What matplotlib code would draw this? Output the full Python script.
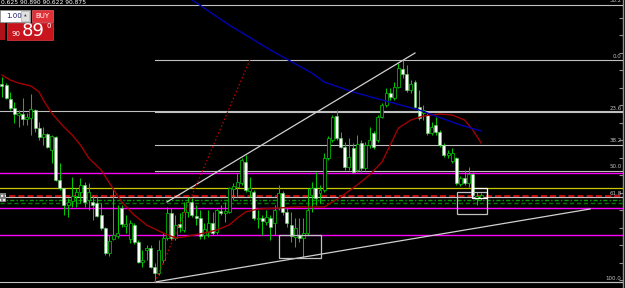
import numpy as np
import matplotlib
matplotlib.use("Agg")
import matplotlib.pyplot as plt
from matplotlib.patches import Rectangle

# ---------------------------------------------------------------------------
# Price data, one entry per bar.
# ---------------------------------------------------------------------------
opens = [
    92.01, 92.00, 91.86, 91.77, 91.70, 91.71, 91.66, 91.67, 91.75, 91.57,
    91.48, 91.51, 91.35, 91.48, 91.05, 90.97, 90.80, 90.84, 90.89, 90.93,
    91.00, 90.85, 90.83, 90.82, 90.70, 90.57, 90.32, 90.46, 90.49, 90.77,
    90.59, 90.46, 90.60, 90.43, 90.23, 90.35, 90.37, 90.18, 90.12, 90.25,
    90.47, 90.72, 90.47, 90.61, 90.55, 90.73, 90.83, 90.69, 90.67, 90.50,
    90.53, 90.62, 90.53, 90.74, 90.72, 90.73, 90.96, 90.98, 91.02, 91.23,
    90.94, 90.93, 90.66, 90.67, 90.63, 90.67, 90.62, 90.77, 90.92, 90.73,
    90.60, 90.48, 90.50, 90.47, 90.52, 90.90, 90.97, 90.92, 90.95, 91.27,
    91.45, 91.69, 91.47, 91.38, 91.18, 91.37, 91.15, 91.42, 91.17, 91.40,
    91.52, 91.45, 91.68, 91.80, 91.92, 91.87, 91.98, 92.16, 92.11, 91.95,
    92.03, 91.78, 91.72, 91.70, 91.52, 91.60, 91.53, 91.40, 91.30, 91.24,
    91.27, 91.01, 91.07, 91.02, 91.11, 90.86, 90.87,
]
highs = [
    92.08, 92.02, 91.93, 91.83, 91.75, 91.87, 91.72, 91.91, 91.76, 91.63,
    91.58, 91.52, 91.50, 91.49, 91.22, 90.97, 90.87, 91.08, 90.97, 91.07,
    91.03, 91.02, 90.90, 90.88, 90.82, 90.58, 90.50, 90.97, 90.80, 90.80,
    90.70, 90.65, 90.62, 90.45, 90.35, 90.40, 90.40, 90.22, 90.45, 90.52,
    90.78, 90.77, 90.70, 90.72, 90.83, 90.88, 90.87, 90.80, 90.75, 90.62,
    90.75, 90.73, 90.77, 90.80, 90.83, 90.98, 91.02, 91.12, 91.27, 91.30,
    91.08, 90.95, 90.75, 90.70, 90.75, 90.70, 90.80, 91.00, 90.94, 90.78,
    90.73, 90.67, 90.67, 90.67, 90.97, 91.03, 91.13, 91.00, 91.32, 91.49,
    91.70, 91.75, 91.53, 91.43, 91.47, 91.42, 91.50, 91.45, 91.43, 91.58,
    91.54, 91.70, 91.82, 91.97, 91.97, 92.03, 92.22, 92.25, 92.20, 92.05,
    92.05, 91.95, 91.80, 91.72, 91.63, 91.68, 91.55, 91.42, 91.35, 91.37,
    91.28, 91.09, 91.15, 91.18, 91.13, 90.93, 90.92,
]
lows = [
    91.88, 91.86, 91.75, 91.62, 91.58, 91.60, 91.60, 91.50, 91.53, 91.45,
    91.40, 91.37, 91.22, 91.04, 90.95, 90.70, 90.68, 90.78, 90.78, 90.82,
    90.78, 90.75, 90.65, 90.68, 90.55, 90.30, 90.29, 90.45, 90.47, 90.58,
    90.52, 90.42, 90.41, 90.22, 90.18, 90.25, 90.17, 90.03, 90.10, 90.22,
    90.45, 90.45, 90.45, 90.53, 90.53, 90.68, 90.68, 90.60, 90.46, 90.46,
    90.48, 90.50, 90.51, 90.70, 90.63, 90.72, 90.85, 90.88, 91.00, 90.93,
    90.88, 90.65, 90.57, 90.50, 90.60, 90.45, 90.50, 90.75, 90.70, 90.58,
    90.43, 90.38, 90.43, 90.28, 90.50, 90.73, 90.80, 90.82, 90.93, 91.25,
    91.43, 91.45, 91.37, 91.15, 91.15, 91.12, 91.13, 91.13, 91.15, 91.37,
    91.36, 91.43, 91.67, 91.78, 91.85, 91.85, 91.97, 92.07, 91.93, 91.92,
    91.77, 91.65, 91.65, 91.50, 91.50, 91.50, 91.38, 91.28, 91.27, 91.22,
    91.00, 90.99, 91.00, 90.98, 90.88, 90.80, 90.85,
]
closes = [
    91.99, 91.87, 91.77, 91.71, 91.72, 91.66, 91.68, 91.76, 91.57, 91.48,
    91.51, 91.38, 91.49, 91.05, 90.97, 90.80, 90.83, 90.89, 90.93, 91.00,
    90.83, 90.93, 90.80, 90.69, 90.57, 90.32, 90.44, 90.50, 90.52, 90.61,
    90.61, 90.62, 90.43, 90.23, 90.25, 90.37, 90.18, 90.12, 90.35, 90.47,
    90.72, 90.47, 90.60, 90.58, 90.73, 90.83, 90.70, 90.67, 90.49, 90.56,
    90.62, 90.52, 90.75, 90.72, 90.74, 90.97, 90.99, 91.03, 91.25, 90.95,
    90.97, 90.67, 90.67, 90.64, 90.68, 90.58, 90.75, 90.92, 90.73, 90.62,
    90.49, 90.57, 90.47, 90.52, 90.75, 90.97, 90.87, 90.95, 91.27, 91.47,
    91.68, 91.47, 91.38, 91.18, 91.28, 91.13, 91.41, 91.17, 91.40, 91.45,
    91.38, 91.68, 91.80, 91.92, 91.88, 91.98, 92.17, 92.11, 91.95, 92.01,
    91.78, 91.67, 91.75, 91.52, 91.58, 91.53, 91.40, 91.30, 91.32, 91.32,
    91.02, 91.07, 91.02, 91.11, 90.90, 90.89, 90.90,
]

# moving averages, sampled along the curves (bar, price)
ma_red_bars = [0, 2, 4, 7, 9, 10, 12, 15, 17, 19, 21, 24, 26, 29, 32, 35, 39, 42,
               44, 49, 52, 55, 57, 59, 62, 67, 71, 78, 82, 86, 89, 92, 94, 96, 99,
               102, 106, 109, 112, 114, 116]
ma_red = [92.10, 92.05, 92.02, 91.99, 91.93, 91.85, 91.72, 91.58, 91.50, 91.40,
          91.27, 91.15, 91.02, 90.83, 90.70, 90.60, 90.52, 90.47, 90.48, 90.52,
          90.55, 90.60, 90.67, 90.73, 90.76, 90.77, 90.78, 90.78, 90.88, 91.00,
          91.10, 91.23, 91.40, 91.57, 91.65, 91.69, 91.71, 91.70, 91.65, 91.55,
          91.42]
ma_blue_bars = [45, 55, 65, 75, 78, 85, 92, 101, 111, 116]
ma_blue = [92.88, 92.60, 92.35, 92.12, 92.03, 91.93, 91.85, 91.75, 91.60, 91.54]

# fibonacci retracement anchors (bar, price) and levels
fib_low = (37, 90.03)
fib_high = (97, 92.25)
fib_levels = [0.0, 23.6, 38.2, 50.0, 61.8, 100.0]

# horizontal lines
gray_lines = [91.74, 90.88, 90.03, 92.805]
magenta_lines = [91.12, 90.77, 90.50]
yellow_lines = [90.97]
red_dash_lines = [90.89]
green_dash_lines = [90.85, 90.82]

# trend lines ((bar0, price0), (bar1, price1))
upper_trend = ((39.95, 90.83), (100.0, 92.32))
lower_trend = ((37.05, 90.03), (142.4, 90.76))
red_trend = ((37.05, 90.03), (60.0, 92.25))

# rectangles (bar0, bar1, price0, price1)
boxes = [(67.1, 77.2, 90.27, 90.50), (110.2, 117.4, 90.71, 90.93)]
small_box = (113.8, 117.4, 90.87, 90.97)

W, H = 625, 288
fig = plt.figure(figsize=(W / 100, H / 100), dpi=100, facecolor="black")
ax = fig.add_axes([0, 0, 623 / W, 1])
ax.set_facecolor("black")
ax.set_xlim(-0.48, 150.36)
ax.set_ylim(89.97, 92.85)
for s in ["left", "top", "bottom"]:
    ax.spines[s].set_visible(False)
ax.spines["right"].set_color("#909090")
ax.spines["right"].set_linewidth(1.0)
ax.set_xticks([])
ax.yaxis.tick_right()
ax.set_yticks(np.arange(90.05, 92.85, 0.175))
ax.tick_params(axis="y", direction="in", length=3, color="#909090", labelright=False)

silver = "#c0c0c0"
lw = 0.8

# --- horizontal levels -----------------------------------------------------
for p in gray_lines:
    ax.axhline(p, color=silver, lw=lw, zorder=3)
for p in magenta_lines:
    ax.axhline(p, color="#ff00ff", lw=1.0, zorder=3)
for p in yellow_lines:
    ax.axhline(p, color="#c8c800", lw=0.9, zorder=3)
for p in red_dash_lines:
    ax.axhline(p, color="#ff1010", lw=1.1, ls=(0, (4, 2)), zorder=3)
ax.axhline(green_dash_lines[0], color="#00a000", lw=1.0, ls=(0, (3, 1.5, 1, 1.5)), zorder=3)
ax.axhline(green_dash_lines[1], color="#007800", lw=1.0, ls=(0, (3, 2)), zorder=3)

# --- fibonacci -------------------------------------------------------------
rng = fib_high[1] - fib_low[1]
for lev in fib_levels:
    p = fib_high[1] - rng * lev / 100
    ax.plot([fib_low[0], 150.36], [p, p], color=silver, lw=lw, zorder=3)
    ax.text(150.0, p + 0.015, f"{lev:.1f}", color=silver, fontsize=4,
            ha="right", va="bottom", zorder=4)
ax.text(150.0, 92.815, "38.2", color=silver, fontsize=4, ha="right", va="bottom", zorder=4)

# --- candles ---------------------------------------------------------------
o = np.array(opens)
h = np.array(highs)
l = np.array(lows)
c = np.array(closes)
x = np.arange(len(o))
bull = c >= o
ax.vlines(x, l, h, color="#00c800", lw=0.75, zorder=4)
body_lo = np.minimum(o, c)
body_h = np.maximum(np.abs(c - o), 0.012)
ax.bar(x[bull], body_h[bull], bottom=body_lo[bull], width=0.72,
       facecolor="black", edgecolor="#00b400", linewidth=0.6, zorder=5)
ax.bar(x[~bull], body_h[~bull], bottom=body_lo[~bull], width=0.72,
       facecolor="white", edgecolor="#60d060", linewidth=0.4, zorder=5)

# --- moving averages -------------------------------------------------------
ax.plot(ma_red_bars, ma_red, color="#a00000", lw=1.0, zorder=6)
ax.plot(ma_blue_bars, ma_blue, color="#0000b4", lw=1.0, zorder=6)

# --- trend lines -----------------------------------------------------------
for (a, b) in (upper_trend, lower_trend):
    ax.plot([a[0], b[0]], [a[1], b[1]], color="#d0d0d0", lw=0.9, zorder=6)
ax.plot([red_trend[0][0], red_trend[1][0]], [red_trend[0][1], red_trend[1][1]],
        color="#c00000", lw=0.9, ls=(0, (1.2, 1.8)), zorder=6)

# --- rectangles ------------------------------------------------------------
for b0, b1, p0, p1 in boxes:
    ax.add_patch(Rectangle((b0, p0), b1 - b0, p1 - p0, fill=False,
                           edgecolor=silver, lw=0.9, zorder=7))
b0, b1, p0, p1 = small_box
ax.add_patch(Rectangle((b0, p0), b1 - b0, p1 - p0, fill=False,
                       edgecolor="white", lw=0.9, zorder=7))


# --- overlay widgets in pixel coordinates ----------------------------------
def px_rect(x0, y0, w, h_, **kw):
    fig.add_artist(Rectangle((x0 / W, 1 - (y0 + h_) / H), w / W, h_ / H,
                             transform=fig.transFigure, **kw))


def px_text(x0, y0, s, **kw):
    fig.text(x0 / W, 1 - y0 / H, s, **kw)


# top info line
px_text(1, 2.5, "0.625 90.890 90.622 90.875", color="white", fontsize=4.3, va="center")
# left handle of the order lines
px_rect(0, 193, 6, 9, facecolor="#808080", edgecolor="white", hatch="....", lw=0)
# lot size box
px_rect(0, 10, 30, 12, facecolor="white", edgecolor="#a0a0a0", lw=0.5)
px_rect(21, 11, 8, 10, facecolor="#e0e0e0", edgecolor="#a0a0a0", lw=0.4)
px_text(14, 16, "1.00", color="#1a1a60", fontsize=5, ha="center", va="center")
px_text(25, 16, "\u25b2", color="#404040", fontsize=2.5, ha="center", va="center")
# buy button
px_rect(32, 10, 21, 12, facecolor="#e03038", edgecolor="#f06068", lw=0.5)
px_text(42.5, 16, "BUY", color="white", fontsize=5, ha="center", va="center")
# price buttons
px_rect(0, 23, 5, 17, facecolor="#b01018", lw=0)
px_rect(7, 23, 46, 17, facecolor="#c8141c", edgecolor="#e04048", lw=0.5)
px_text(16, 34, "90", color="white", fontsize=5, ha="center", va="center")
px_text(33, 31.5, "89", color="white", fontsize=13, ha="center", va="center")
px_text(48.5, 26.5, "0", color="white", fontsize=5, ha="center", va="center")

fig.savefig("out.png", dpi=100, facecolor="black")
